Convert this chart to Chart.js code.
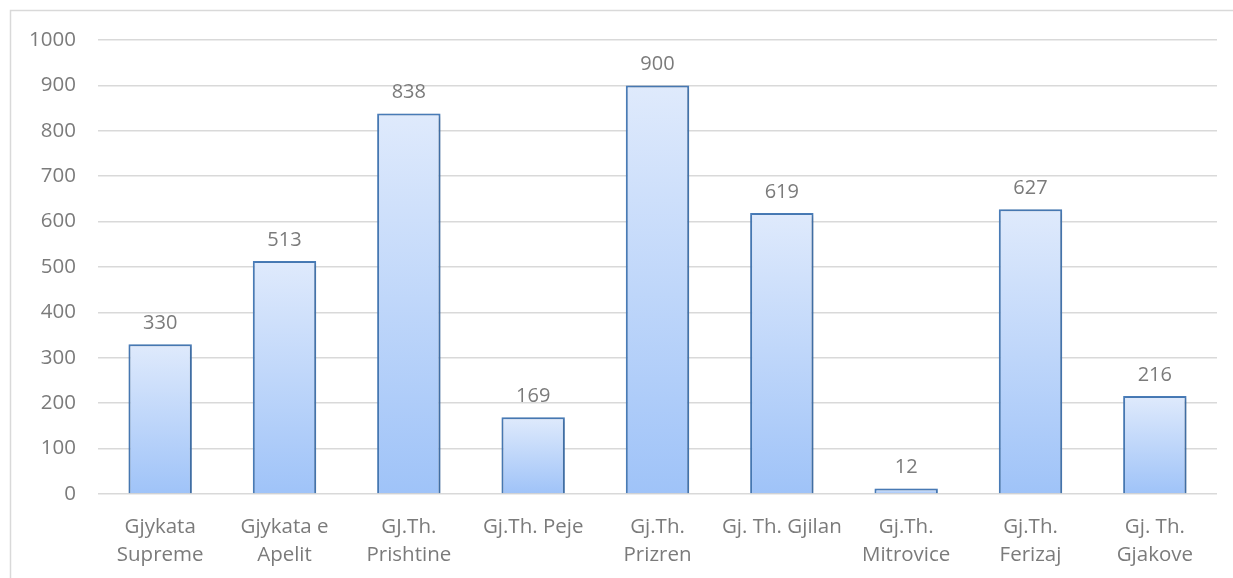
<!DOCTYPE html>
<html>
<head>
<meta charset="utf-8">
<script src="https://cdn.jsdelivr.net/npm/chart.js@4"></script>
<style>
  html, body { margin: 0; padding: 0; background: #fff; }
  #wrap { width: 1233px; height: 578px; }
</style>
</head>
<body>
<div id="wrap"><canvas id="courtChart"></canvas></div>
<script>
// ---- data ----
const courts = [
  ['Gjykata', 'Supreme'],
  ['Gjykata e', 'Apelit'],
  ['GJ.Th.', 'Prishtine'],
  'Gj.Th. Peje',
  ['Gj.Th.', 'Prizren'],
  'Gj. Th. Gjilan',
  ['Gj.Th.', 'Mitrovice'],
  ['Gj.Th.', 'Ferizaj'],
  ['Gj. Th.', 'Gjakove']
];
const caseCounts = [330, 513, 838, 169, 900, 619, 12, 627, 216];
const yTicks = [0, 100, 200, 300, 400, 500, 600, 700, 800, 900, 1000];

const FONT = "'Open Sans', 'Noto Sans', sans-serif";
const TEXT = '#7b7b7b';

// per-bar vertical gradient, light at top, computed from the y scale
function barFill(ctx) {
  const chart = ctx.chart;
  const ys = chart.scales.y;
  if (!ys || ctx.raw == null) return '#c2d7f8';
  const top = ys.getPixelForValue(ctx.raw);
  const base = ys.getPixelForValue(0);
  if (!isFinite(top) || !isFinite(base) || top === base) return '#c2d7f8';
  const g = chart.ctx.createLinearGradient(0, top, 0, base);
  g.addColorStop(0, '#dfeafc');
  g.addColorStop(1, '#9fc3f8');
  return g;
}

// outer frame like the spreadsheet chart box
const framePlugin = {
  id: 'frame',
  beforeDraw(chart) {
    const c = chart.ctx;
    c.save();
    c.strokeStyle = '#d9d9d9';
    c.lineWidth = 1.5;
    c.strokeRect(10.5, 10.5, 1260, 620);
    c.restore();
  }
};

// soft shadow behind the bars
const shadowPlugin = {
  id: 'barShadow',
  beforeDatasetsDraw(chart) {
    const c = chart.ctx;
    c.save();
    c.shadowColor = 'rgba(0,0,0,0.22)';
    c.shadowBlur = 4;
    c.shadowOffsetX = 1;
    c.shadowOffsetY = 1;
  },
  afterDatasetsDraw(chart) {
    chart.ctx.restore();
  }
};

// values above bars
const valueLabels = {
  id: 'valueLabels',
  afterDatasetsDraw(chart) {
    const c = chart.ctx;
    const meta = chart.getDatasetMeta(0);
    c.save();
    c.font = '20px ' + FONT;
    c.fillStyle = TEXT;
    c.textAlign = 'center';
    c.textBaseline = 'bottom';
    meta.data.forEach((bar, i) => {
      c.fillText(String(caseCounts[i]), bar.x, bar.y - 11);
    });
    c.restore();
  }
};

new Chart(document.getElementById('courtChart'), {
  type: 'bar',
  data: {
    labels: courts,
    datasets: [{
      data: caseCounts,
      backgroundColor: barFill,
      borderColor: '#4a7ebb',
      borderWidth: 2,
      borderSkipped: 'bottom',
      categoryPercentage: 1.0,
      barPercentage: 0.51
    }]
  },
  options: {
    responsive: true,
    maintainAspectRatio: false,
    animation: false,
    layout: { padding: { top: 40, right: 16, left: 0, bottom: 0 } },
    plugins: {
      legend: { display: false },
      tooltip: { enabled: false }
    },
    scales: {
      x: {
        grid: { display: false },
        border: { display: false },
        ticks: {
          color: TEXT,
          font: { family: FONT, size: 20.5, lineHeight: 1.36 },
          maxRotation: 0,
          autoSkip: false,
          padding: 11
        },
        afterFit(s) { s.height = 84; }
      },
      y: {
        min: 0,
        max: 1000,
        afterBuildTicks(s) { s.ticks = yTicks.map(v => ({ value: v })); },
        grid: { color: '#d9d9d9', lineWidth: 1.5, drawTicks: false },
        border: { display: false },
        ticks: {
          color: TEXT,
          font: { family: FONT, size: 20.5 },
          padding: 22,
          callback: (v) => String(v)
        },
        afterFit(s) { s.width = 98; }
      }
    }
  },
  plugins: [framePlugin, shadowPlugin, valueLabels]
});
</script>
</body>
</html>
